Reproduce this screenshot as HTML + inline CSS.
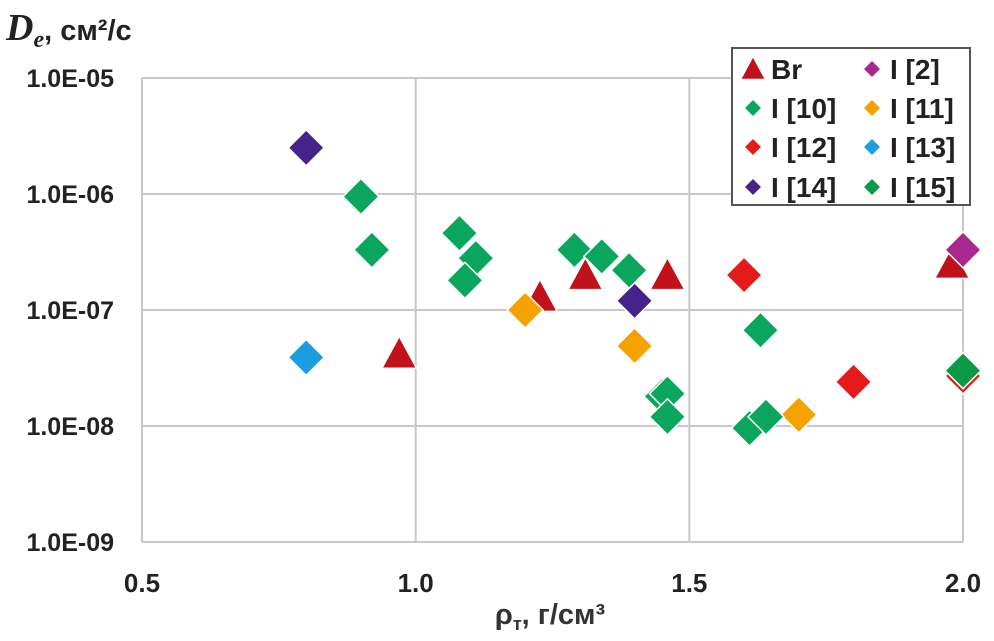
<!DOCTYPE html>
<html><head><meta charset="utf-8"><style>
html,body{margin:0;padding:0;background:#fff;}
svg{display:block;font-family:"Liberation Sans",sans-serif;}
</style></head><body>
<svg id="chart" width="994" height="641" viewBox="0 0 994 641">
<g id="grid"></g>
<g id="axes"></g>
<g id="marks"></g>
<text x="6" y="40" font-family="Liberation Serif,serif" font-style="italic" font-weight="bold" font-size="38" fill="#222">D<tspan font-size="24" dy="7">e</tspan><tspan font-family="Liberation Sans,sans-serif" font-style="normal" font-size="29" dy="-7">, см²/с</tspan></text>
<text x="550" y="624" text-anchor="middle" font-weight="bold" font-size="29" fill="#333">ρ<tspan font-size="18" dy="6">т</tspan><tspan dy="-6">, г/см³</tspan></text>
<g id="legend"></g>
</svg>
<script>
const xTicks=[0.5,1.0,1.5,2.0];
const xTickLabels=["0.5","1.0","1.5","2.0"];
const yTicks=[-5,-6,-7,-8,-9];
const yTickLabels=["1.0E-05","1.0E-06","1.0E-07","1.0E-08","1.0E-09"];
const seriesNames=["Br","I [2]","I [10]","I [11]","I [12]","I [13]","I [14]","I [15]"];
const seriesColors=["#c0121a","#a8288f","#0aa65e","#f5a100","#e51a1a","#1a9ee0","#46238c","#0a9a45"];
const seriesShapes=["tri","dia","dia","dia","dia","dia","dia","dia"];
const brX=[0.97,1.227,1.31,1.46,1.98];
const brY=[4.2e-8,1.3e-7,2.0e-7,2.0e-7,2.5e-7];
const i2X=[2.0];
const i2Y=[3.3e-7];
const i10X=[0.90,0.92,1.08,1.11,1.09,1.29,1.34,1.39,1.45,1.46,1.46,1.63,1.61,1.64];
const i10Y=[9.5e-7,3.3e-7,4.6e-7,2.8e-7,1.8e-7,3.3e-7,2.9e-7,2.2e-7,1.8e-8,1.9e-8,1.2e-8,6.7e-8,9.6e-9,1.2e-8];
const i11X=[1.20,1.40,1.70];
const i11Y=[1.0e-7,4.9e-8,1.25e-8];
const i12X=[1.60,1.80,2.0];
const i12Y=[2.0e-7,2.4e-8,2.7e-8];
const i13X=[0.80];
const i13Y=[3.9e-8];
const i14X=[0.80,1.40];
const i14Y=[2.5e-6,1.2e-7];
const i15X=[2.0];
const i15Y=[3.0e-8];
const order=[[0,brX,brY],[3,i11X,i11Y],[5,i13X,i13Y],[4,i12X,i12Y],[6,i14X,i14Y],[2,i10X,i10Y],[7,i15X,i15Y],[1,i2X,i2Y]];
const NS="http://www.w3.org/2000/svg";
const L=142,R=963,T=78,B=542;
function xs(v){return L+(v-0.5)/1.5*(R-L);}
function ys(v){const lg=Math.log10(v);return T+(-5-lg)/4*(B-T);}
function yl(lg){return T+(-5-lg)/4*(B-T);}
function mk(tag,attrs,parent){const e=document.createElementNS(NS,tag);for(const k in attrs)e.setAttribute(k,attrs[k]);parent.appendChild(e);return e;}
const grid=document.getElementById('grid'),axes=document.getElementById('axes'),marks=document.getElementById('marks'),legend=document.getElementById('legend');
yTicks.forEach((t,i)=>{
 const y=yl(t);
 const ln=mk('line',{x1:L,x2:R,y1:y,y2:y,stroke:'#c8c8c8','stroke-width':2},grid);
 
 
 const tx=mk('text',{x:114,y:y+9,'text-anchor':'end','font-weight':'bold','font-size':25,fill:'#222'},axes);
 tx.textContent=yTickLabels[i];
 
 
});
xTicks.forEach((t,i)=>{
 const x=xs(t);
 const ln=mk('line',{x1:x,x2:x,y1:T,y2:B,stroke:'#c8c8c8','stroke-width':2},grid);
 
 
 const tx=mk('text',{x:x,y:592,'text-anchor':'middle','font-weight':'bold','font-size':26,fill:'#222'},axes);
 tx.textContent=xTickLabels[i];
 
 
});
function shape(kind,cx,cy,s,color,parent){
 let e;
 if(kind==='tri'){e=mk('polygon',{points:`${cx},${cy-s*0.95} ${cx+s*0.95},${cy+s*0.8} ${cx-s*0.95},${cy+s*0.8}`,fill:color,stroke:'#fff','stroke-width':1.2},parent);}
 else{e=mk('polygon',{points:`${cx},${cy-s} ${cx+s},${cy} ${cx},${cy+s} ${cx-s},${cy}`,fill:color,stroke:'#fff','stroke-width':1.5},parent);}
 return e;
}
order.forEach(([si,xa,ya])=>{
 xa.forEach((xv,j)=>{
  const e=shape(seriesShapes[si],xs(xv),ys(ya[j]),18,seriesColors[si],marks);
  
  
 });
});
const box=mk('rect',{x:732,y:48,width:238,height:157,fill:'#fff',stroke:'#555','stroke-width':2},legend);


const rowsY=[69,108,147,187];
seriesNames.forEach((n,i)=>{
 const col=i%2,row=Math.floor(i/2);
 const mx=col===0?753:872, y=rowsY[row];
 const g=mk('g',{},legend);
 
 
 shape(seriesShapes[i],mx,y,seriesShapes[i]==='tri'?13:9,seriesColors[i],g);
 const t=mk('text',{x:mx+18,y:y+10,'font-weight':'bold','font-size':28,fill:'#222'},g);
 t.textContent=n;
});
</script>
</body></html>
